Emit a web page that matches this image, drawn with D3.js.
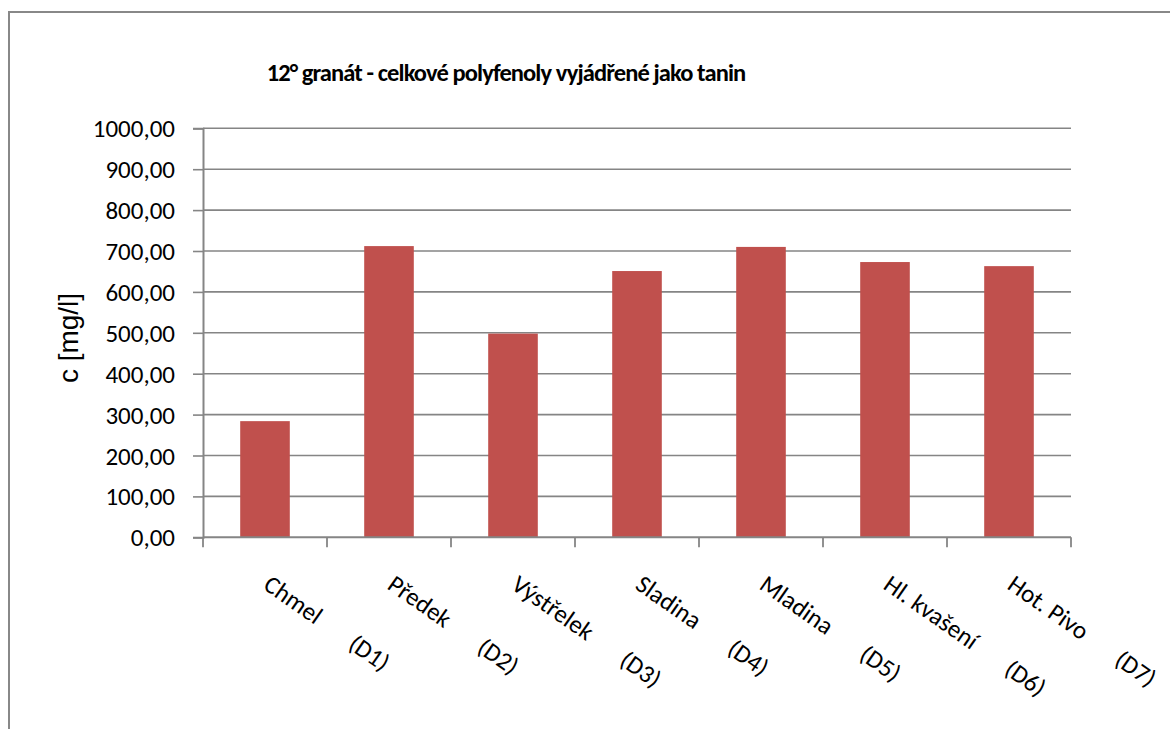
<!DOCTYPE html>
<html>
<head>
<meta charset="utf-8">
<script src="https://cdn.jsdelivr.net/npm/d3@7"></script>
<style>
    body { margin: 0; background: #fff; }
    #chart text { font-family: Carlito, Calibri, Lato, sans-serif; fill: #000; }
</style>
</head>
<body>
<div id="chart"></div>
<script>
const title = "12° granát - celkové polyfenoly vyjádřené jako tanin";
const yTitle = "c [mg/l]";
const categories = ["Chmel", "Předek", "Výstřelek", "Sladina", "Mladina", "Hl. kvašení", "Hot. Pivo"];
const codes = ["(D1)", "(D2)", "(D3)", "(D4)", "(D5)", "(D6)", "(D7)"];
const values = [284, 712, 498, 651, 710, 673, 663];
const yTicks = [0, 100, 200, 300, 400, 500, 600, 700, 800, 900, 1000];

const width = 1170, height = 729;
const plot = { left: 203, right: 1071, top: 128.3, bottom: 537.3 };
const gridColor = "#858585";

const svg = d3.select("#chart")
    .append("svg")
    .attr("width", width)
    .attr("height", height);

// chart area frame, only left and top edges fall inside the picture
svg.append("rect")
    .attr("x", 9)
    .attr("y", 12)
    .attr("width", width + 20)
    .attr("height", height + 20)
    .attr("fill", "#fff")
    .attr("stroke", "#888")
    .attr("stroke-width", 2);

const x = d3.scaleBand()
    .domain(categories)
    .range([plot.left, plot.right])
    .paddingInner(0.6)
    .paddingOuter(0.3);

const y = d3.scaleLinear()
    .domain([0, 1000])
    .range([plot.bottom, plot.top]);

// gridlines
svg.append("g")
    .attr("class", "grid")
    .selectAll("line")
    .data(yTicks.filter(d => d > 0))
    .enter()
    .append("line")
    .attr("x1", plot.left)
    .attr("x2", plot.right)
    .attr("y1", d => y(d))
    .attr("y2", d => y(d))
    .style("stroke", gridColor)
    .style("stroke-width", "1.6px");

// bars
svg.append("g")
    .selectAll("rect")
    .data(values)
    .enter()
    .append("rect")
    .attr("x", (d, i) => x(categories[i]))
    .attr("y", d => y(d))
    .attr("width", x.bandwidth())
    .attr("height", d => y(0) - y(d))
    .attr("fill", "#C0504D");

// y axis
const yAxis = svg.append("g")
    .attr("transform", `translate(${plot.left},0)`)
    .call(d3.axisLeft(y)
        .tickValues(yTicks)
        .tickSize(10)
        .tickPadding(18)
        .tickFormat(d => d.toFixed(2).replace(".", ",")));

yAxis.select(".domain").style("stroke", gridColor).style("stroke-width", "2px");
yAxis.selectAll(".tick line").style("stroke", gridColor).style("stroke-width", "1.6px");
yAxis.selectAll(".tick text")
    .style("font-size", "25px")
    .attr("dy", "0.34em");

// x axis: line plus ticks on the category boundaries
const xAxis = svg.append("g");
xAxis.append("line")
    .attr("x1", plot.left)
    .attr("x2", plot.right)
    .attr("y1", y(0))
    .attr("y2", y(0))
    .style("stroke", gridColor)
    .style("stroke-width", "2px");

const step = x.step();
const edges = [plot.left].concat(categories.map(c => x(c) + x.bandwidth() / 2 + step / 2));
xAxis.selectAll(".edge")
    .data(edges)
    .enter()
    .append("line")
    .attr("class", "edge")
    .attr("x1", d => d)
    .attr("x2", d => d)
    .attr("y1", y(0))
    .attr("y2", y(0) + 10)
    .style("stroke", gridColor)
    .style("stroke-width", "1.8px");

// rotated category labels, name and code on one line with a gap
const labels = xAxis.selectAll(".cat")
    .data(categories)
    .enter()
    .append("text")
    .attr("class", "cat")
    .attr("transform", d => `translate(${x(d) + x.bandwidth() / 2 - 3},588) rotate(35)`)
    .style("font-size", "25px");

labels.append("tspan").text(d => d);
labels.append("tspan")
    .attr("dx", 39)
    .text((d, i) => codes[i]);

// y axis title
svg.append("text")
    .attr("transform", `translate(78,338) rotate(-90)`)
    .attr("text-anchor", "middle")
    .style("font-family", "'Liberation Sans', Arial, sans-serif")
    .style("font-size", "28px")
    .text(yTitle);

// chart title
svg.append("text")
    .attr("x", 506)
    .attr("y", 81)
    .attr("text-anchor", "middle")
    .style("font-size", "24.5px")
    .style("font-weight", "bold")
    .style("letter-spacing", "-0.9px")
    .text(title);
</script>
</body>
</html>
